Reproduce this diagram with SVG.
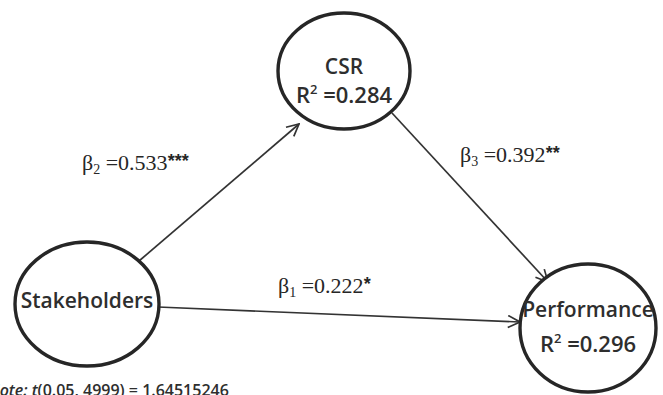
<svg xmlns="http://www.w3.org/2000/svg" width="663" height="395" viewBox="0 0 663 395">
  <style>
    .node { fill: #ffffff; stroke: #262626; stroke-width: 3.4; }
    .label { font-family: "Open Sans", "Noto Sans", sans-serif; font-weight: 600; fill: #2e2e2e; text-anchor: middle; }
    .coef { font-family: "Liberation Serif", "Times New Roman", serif; font-size: 22px; fill: #262626; }
    .star { font-family: "Liberation Sans", Arial, sans-serif; font-weight: bold; font-size: 18px; }
    .edge { stroke: #333333; stroke-width: 1.7; fill: none; }
    .note { font-family: "Open Sans", "Noto Sans", sans-serif; font-weight: 600; font-size: 16px; fill: #2e2e2e; }
  </style>
  <defs>
    <marker id="arrow" viewBox="0 0 14 14" refX="13" refY="7" markerWidth="14" markerHeight="14" markerUnits="userSpaceOnUse" orient="auto">
      <path d="M1,1 L13,7 L1,13" fill="none" stroke="#333333" stroke-width="1.7"/>
    </marker>
  </defs>
  <rect width="663" height="395" fill="#ffffff"/>

  <g id="connectors">
    <line class="edge" x1="139" y1="261" x2="299" y2="124" marker-end="url(#arrow)"/>
    <line class="edge" x1="392" y1="113" x2="548" y2="282" marker-end="url(#arrow)"/>
    <line class="edge" x1="158" y1="307" x2="520" y2="322" marker-end="url(#arrow)" stroke-width="2.2"/>
  </g>

  <g id="node-csr">
    <ellipse class="node" cx="344" cy="71" rx="66" ry="58"/>
    <text class="label" x="344" y="74" font-size="21">CSR</text>
    <text class="label" x="344" y="103" font-size="22">R<tspan font-size="13" dy="-9">2</tspan><tspan dy="9"> =0.284</tspan></text>
  </g>

  <g id="node-stakeholders">
    <ellipse class="node" cx="87" cy="304" rx="72" ry="62"/>
    <text class="label" x="87" y="308" font-size="21">Stakeholders</text>
  </g>

  <g id="node-performance">
    <ellipse class="node" cx="588" cy="328" rx="68" ry="64"/>
    <text class="label" x="588" y="317" font-size="21">Performance</text>
    <text class="label" x="588" y="352" font-size="22">R<tspan font-size="13" dy="-9">2</tspan><tspan dy="9"> =0.296</tspan></text>
  </g>

  <g id="coefficients">
    <text class="coef" x="82" y="170">β<tspan font-size="14" dy="4">2</tspan><tspan dy="-4"> =0.533</tspan><tspan class="star" dy="-3">***</tspan></text>
    <text class="coef" x="460" y="162">β<tspan font-size="14" dy="4">3</tspan><tspan dy="-4"> =0.392</tspan><tspan class="star" dy="-3">**</tspan></text>
    <text class="coef" x="278" y="293">β<tspan font-size="14" dy="4">1</tspan><tspan dy="-4"> =0.222</tspan><tspan class="star" dy="-3">*</tspan></text>
  </g>

  <text class="note" x="-12" y="396"><tspan font-style="italic">Note: t</tspan>(0.05, 4999) = 1.64515246</text>
</svg>
